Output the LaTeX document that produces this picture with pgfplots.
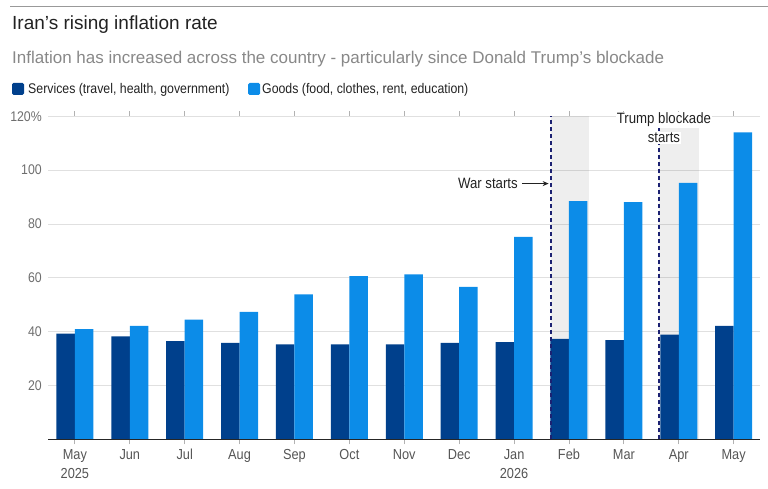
\documentclass[border=0pt]{standalone}
\usepackage{fontspec}
\setmainfont{Liberation Sans}
\newfontfamily\cond[FakeStretch=0.88]{Liberation Sans}
\usepackage{pgfplots}
\pgfplotsset{compat=1.18}
\usetikzlibrary{arrows.meta}

\definecolor{services}{RGB}{0,64,140}
\definecolor{goods}{RGB}{12,140,232}
\definecolor{marker}{RGB}{28,33,114}
\definecolor{titlegray}{RGB}{34,34,34}
\definecolor{subgray}{RGB}{136,136,136}
\definecolor{labelgray}{RGB}{85,85,85}

\pgfplotstableread{
idx services goods
0  39.3  40.9
1  38.2  42.1
2  36.5  44.5
3  35.8  47.3
4  35.3  53.8
5  35.3  60.6
6  35.3  61.3
7  35.8  56.6
8  36.1  75.2
9  37.3  88.5
10 36.8  88.1
11 38.9  95.3
12 42.1  114.0
}\inflation

\begin{document}
\begin{tikzpicture}[x=1pt,y=1pt]
\useasboundingbox (0,0) rectangle (768,-489);

% header rule, title and subtitle
\draw[black!40, line width=0.8pt] (10,-6) -- (768,-6);
\node[anchor=base west, inner sep=0, text=titlegray, font=\fontsize{19}{24}\selectfont] at (12,-30) {Iran’s rising inflation rate};
\node[anchor=base west, inner sep=0, text=subgray, font=\fontsize{17}{20}\selectfont] at (12,-64) {Inflation has increased across the country - particularly since Donald Trump’s blockade};

% legend
\fill[services, rounded corners=1.5pt] (12,-83) rectangle (24,-95);
\node[anchor=base west, inner sep=0, text=titlegray, font=\cond\fontsize{14}{16}\selectfont] at (28,-94) {Services (travel, health, government)};
\fill[goods, rounded corners=1.5pt] (248,-83) rectangle (260,-95);
\node[anchor=base west, inner sep=0, text=titlegray, font=\cond\fontsize{14}{16}\selectfont] at (262,-94) {Goods (food, clothes, rent, education)};

\begin{axis}[
  at={(48pt,-439.3pt)}, anchor=south west,
  scale only axis, width=712pt, height=323pt,
  xmin=-0.49, xmax=12.48, ymin=0, ymax=120,
  clip=false,
  ybar=0pt, bar width=18.5pt,
  axis line style={draw=none},
  tick align=outside,
  major tick length=5pt,
  xtick={0,...,12},
  xticklabels={May\\2025,Jun,Jul,Aug,Sep,Oct,Nov,Dec,Jan\\2026,Feb,Mar,Apr,May},
  xticklabel style={align=center, text=labelgray, yshift=-1.5pt, font=\cond\fontsize{14.5}{19}\selectfont},
  xtick style={draw=black!30, line width=0.8pt},
  ytick={20,40,60,80,100,120},
  yticklabels={20,40,60,80,100,120\%},
  yticklabel style={text=labelgray!85, font=\cond\fontsize{14}{16}\selectfont, anchor=east, inner sep=0pt, xshift=-1pt},
  ytick style={draw=none},
  ymajorgrids,
  grid style={draw=black!12, line width=0.8pt},
  /pgf/number format/assume math mode=true,
]
% shaded months after each event
\fill[black, opacity=0.065] (axis cs:8.67,0) rectangle (axis cs:9.37,120);
\fill[black, opacity=0.065] (axis cs:10.64,0) rectangle (axis cs:11.37,120);

\addplot[fill=services, draw=none] table[x=idx, y=services] {\inflation};
\addplot[fill=goods, draw=none] table[x=idx, y=goods] {\inflation};

% baseline
\draw[black!85, line width=1.2pt] (axis cs:-0.49,0) -- (axis cs:12.48,0);

% event markers
\draw[marker, line width=1.6pt, dash pattern=on 4pt off 3pt] (axis cs:8.67,0) -- (axis cs:8.67,120);
\draw[marker, line width=1.6pt, dash pattern=on 4pt off 3pt] (axis cs:10.64,0) -- (axis cs:10.64,120);

\node[anchor=east, inner sep=0, text=titlegray, font=\cond\fontsize{15}{17}\selectfont] at (axis cs:8.07,95) {War starts};
\draw[titlegray, line width=0.8pt, -{Stealth[length=6pt,width=5pt]}] (axis cs:8.14,95) -- (axis cs:8.63,95);

\node[fill=white, inner sep=1pt, text=titlegray, font=\cond\fontsize{15}{17}\selectfont] at (axis cs:10.73,118.7) {Trump blockade};
\node[fill=white, inner sep=1pt, text=titlegray, font=\cond\fontsize{15}{17}\selectfont] at (axis cs:10.73,112.0) {starts};
\end{axis}
\end{tikzpicture}
\end{document}
